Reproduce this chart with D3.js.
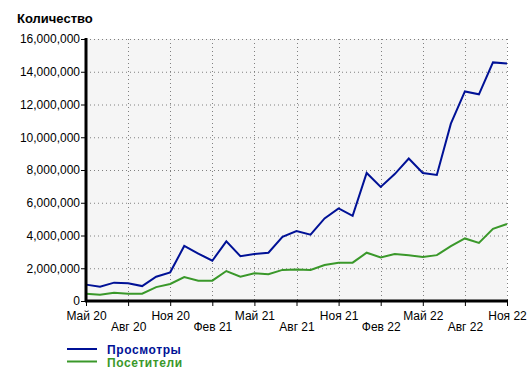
<!DOCTYPE html>
<html><head><meta charset="utf-8">
<script src="https://cdn.jsdelivr.net/npm/d3@7"></script>
<style>body{margin:0;background:#fff}svg{display:block}</style>
</head><body>
<svg id="c" width="529" height="378"></svg>
<script>
const months = ["Май 20","Июн 20","Июл 20","Авг 20","Сен 20","Окт 20","Ноя 20","Дек 20","Янв 21","Фев 21","Мар 21","Апр 21","Май 21","Июн 21","Июл 21","Авг 21","Сен 21","Окт 21","Ноя 21","Дек 21","Янв 22","Фев 22","Мар 22","Апр 22","Май 22","Июн 22","Июл 22","Авг 22","Сен 22","Окт 22","Ноя 22"];
const views = [1000000,870000,1120000,1080000,910000,1480000,1750000,3360000,2900000,2460000,3640000,2740000,2870000,2950000,3920000,4270000,4050000,5040000,5650000,5200000,7820000,6970000,7750000,8700000,7820000,7700000,10830000,12800000,12620000,14570000,14500000];
const visitors = [450000,380000,510000,450000,450000,850000,1040000,1460000,1240000,1240000,1830000,1480000,1690000,1630000,1900000,1930000,1890000,2200000,2340000,2340000,2950000,2660000,2870000,2790000,2680000,2800000,3350000,3820000,3550000,4410000,4700000];
const yTicks = [0,2000000,4000000,6000000,8000000,10000000,12000000,14000000,16000000];
const xTickLabels = ["Май 20","Авг 20","Ноя 20","Фев 21","Май 21","Авг 21","Ноя 21","Фев 22","Май 22","Авг 22","Ноя 22"];
const seriesNames = ["Просмотры","Посетители"];
const colors = ["#001196","#3a982a"];

const svg = d3.select("#c");
const L = 86, R = 507, T = 39, B = 301;
const x = d3.scalePoint().domain(months).range([L, R]);
const y = d3.scaleLinear().domain([0, 16000000]).range([B, T]);
const font = "Arial, 'Liberation Sans', sans-serif";

svg.append("rect").attr("x", L).attr("y", T).attr("width", R - L).attr("height", B - T).attr("fill", "#f5f5f5");

// grid
svg.append("g").selectAll("line").data(yTicks.slice(1)).join("line")
  .attr("x1", L).attr("x2", R).attr("y1", d => y(d) + 0.5).attr("y2", d => y(d) + 0.5)
  .attr("stroke", "#808080").attr("stroke-dasharray", "1,3");
svg.append("g").selectAll("line").data(xTickLabels.slice(1)).join("line")
  .attr("x1", d => Math.round(x(d)) + 0.5).attr("x2", d => Math.round(x(d)) + 0.5).attr("y1", T).attr("y2", B)
  .attr("stroke", "#808080").attr("stroke-dasharray", "1,3");

// lines
const line = d3.line().x((d, i) => x(months[i])).y(d => y(d));
[views, visitors].forEach((s, k) => {
  svg.append("path").datum(s).attr("d", line).attr("fill", "none")
    .attr("stroke", colors[k]).attr("stroke-width", 2).attr("stroke-linejoin", "miter");
});

// y axis
const yAxis = d3.axisLeft(y).tickValues(yTicks).tickSize(5).tickPadding(1).tickFormat(d3.format(","));
const ga = svg.append("g").attr("transform", `translate(${L},0)`).call(yAxis);
ga.select(".domain").remove();
ga.selectAll("text").attr("font-family", font).attr("font-size", 12).attr("fill", "#000");
svg.append("line").attr("x1", L).attr("x2", L).attr("y1", T - 1).attr("y2", B + 1).attr("stroke", "#000").attr("stroke-width", 3);

// x axis
const xAxis = d3.axisBottom(x).tickValues(xTickLabels).tickSize(5).tickPadding(4);
const gx = svg.append("g").attr("transform", `translate(0,${B})`).call(xAxis);
gx.select(".domain").remove();
gx.selectAll("text").attr("font-family", font).attr("font-size", 12).attr("fill", "#000")
  .attr("dy", 0).attr("y", (d, i) => i % 2 ? 30 : 19);
svg.append("line").attr("x1", L - 1).attr("x2", R + 1).attr("y1", B).attr("y2", B).attr("stroke", "#000").attr("stroke-width", 3);

// title
svg.append("text").attr("x", 17).attr("y", 23).text("Количество")
  .attr("font-family", font).attr("font-size", 13).attr("font-weight", "bold");

// legend
seriesNames.forEach((n, k) => {
  const yy = 349 + k * 12.5;
  svg.append("line").attr("x1", 67).attr("x2", 97).attr("y1", yy).attr("y2", yy).attr("stroke", colors[k]).attr("stroke-width", 2);
  svg.append("text").attr("x", 107).attr("y", yy + 5).text(n).attr("fill", colors[k])
    .attr("font-family", font).attr("font-size", 12).attr("font-weight", "bold").attr("letter-spacing", 0.6);
});
</script>
</body></html>
